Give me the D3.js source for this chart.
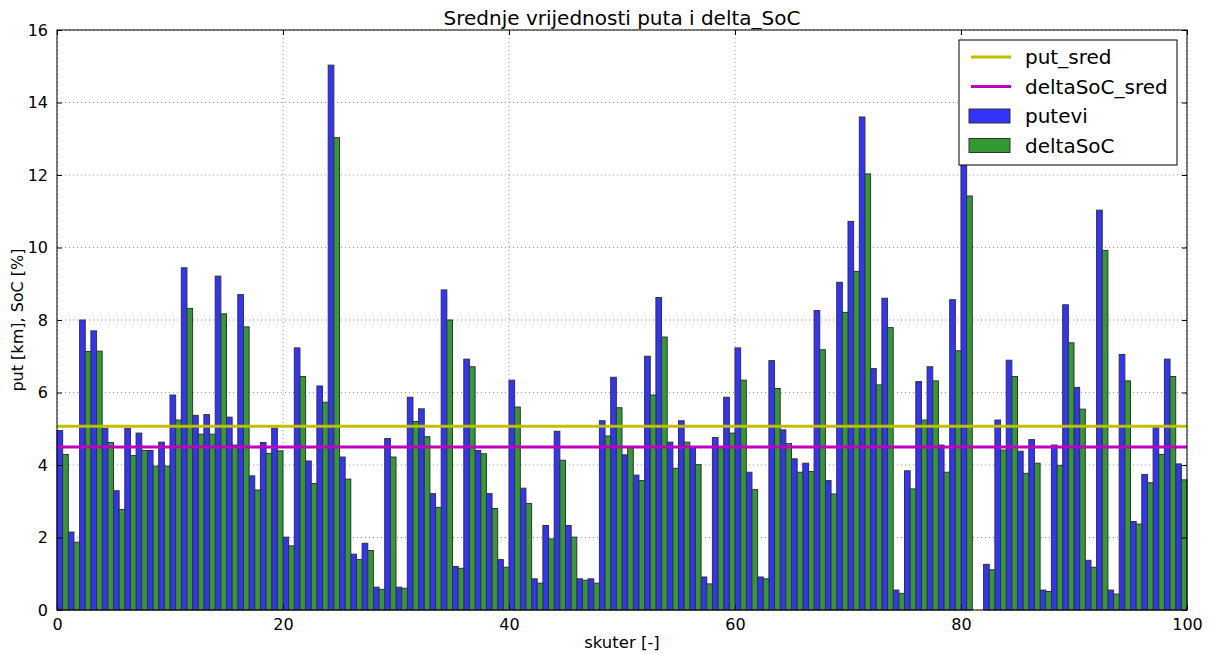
<!DOCTYPE html>
<html>
<head>
<meta charset="utf-8">
<script src="https://cdn.jsdelivr.net/npm/d3@7"></script>
<style>
  html, body { margin: 0; padding: 0; background: #fff; }
  svg { display: block; font-family: "DejaVu Sans", sans-serif; }
</style>
</head>
<body>
<svg id="chart" width="1210" height="654"></svg>
<script>
// Distance travelled per scooter (km)
const putevi = [
  4.95, 2.15, 8.0, 7.7, 5.01, 3.29, 5.01, 4.88, 4.4, 4.63,
  5.93, 9.44, 5.37, 5.39, 9.21, 5.32, 8.7, 3.70, 4.62, 5.02,
  2.01, 7.23, 4.11, 6.18, 15.03, 4.22, 1.54, 1.84, 0.63, 4.73,
  0.63, 5.87, 5.55, 3.21, 8.83, 1.2, 6.92, 4.4, 3.21, 1.39,
  6.34, 3.36, 0.86, 2.33, 4.93, 2.33, 0.86, 0.86, 5.22, 6.42,
  4.28, 3.72, 7.0, 8.62, 4.63, 5.22, 4.48, 0.91, 4.76, 5.87,
  7.23, 3.8, 0.91, 6.88, 4.97, 4.17, 4.05, 8.26, 3.57, 9.04,
  10.72, 13.6, 6.66, 8.6, 0.55, 3.84, 6.3, 6.71, 4.55, 8.56,
  12.9, 0, 1.26, 5.24, 6.89, 4.38, 4.7, 0.55, 4.55, 8.42,
  6.14, 1.37, 11.03, 0.55, 7.05, 2.44, 3.74, 5.05, 6.92, 4.03
];
// State-of-charge drop per scooter (%)
const deltaSoC = [
  4.29, 1.87, 7.13, 7.14, 4.62, 2.77, 4.26, 4.4, 3.97, 3.97,
  5.24, 8.32, 4.85, 4.85, 8.17, 4.55, 7.81, 3.31, 4.32, 4.39,
  1.77, 6.44, 3.49, 5.73, 13.03, 3.61, 1.39, 1.64, 0.57, 4.22,
  0.6, 5.2, 4.78, 2.83, 8.0, 1.15, 6.71, 4.31, 2.8, 1.18,
  5.6, 2.94, 0.74, 1.96, 4.13, 2.01, 0.82, 0.74, 4.8, 5.58,
  4.48, 3.57, 5.93, 7.53, 3.91, 4.63, 4.01, 0.72, 4.48, 4.88,
  6.34, 3.32, 0.86, 6.11, 4.59, 3.8, 3.82, 7.18, 3.2, 8.21,
  9.34, 12.03, 6.21, 7.79, 0.46, 3.34, 5.24, 6.32, 3.8, 7.15,
  11.42, 0, 1.11, 4.41, 6.44, 3.77, 4.05, 0.51, 3.99, 7.37,
  5.54, 1.18, 9.92, 0.44, 6.32, 2.37, 3.51, 4.29, 6.44, 3.59
];
// Averages drawn as horizontal reference lines
const put_sred = [5.07];
const deltaSoC_sred = [4.5];

const xTicks = [0, 20, 40, 60, 80, 100];
const yTicks = [0, 2, 4, 6, 8, 10, 12, 14, 16];

const svg = d3.select("#chart");
const m = { left: 57, right: 1187, top: 30, bottom: 610 };

const x = d3.scaleLinear().domain([0, 100]).range([m.left, m.right]);
const y = d3.scaleLinear().domain([0, 16]).range([m.bottom, m.top]);

// grid
const grid = svg.append("g");
grid.selectAll("line.gx").data(xTicks).join("line")
  .attr("x1", d => x(d)).attr("x2", d => x(d))
  .attr("y1", m.top).attr("y2", m.bottom)
  .attr("stroke", "#000").attr("stroke-width", 0.6)
  .attr("stroke-dasharray", "1,3").attr("opacity", 0.7);
grid.selectAll("line.gy").data(yTicks).join("line")
  .attr("y1", d => y(d)).attr("y2", d => y(d))
  .attr("x1", m.left).attr("x2", m.right)
  .attr("stroke", "#000").attr("stroke-width", 0.6)
  .attr("stroke-dasharray", "1,3").attr("opacity", 0.7);

// bars: putevi on the left half of each unit, deltaSoC on the right half
const bw = 0.5;
const bars = svg.append("g");
bars.selectAll("rect.p").data(putevi).join("rect")
  .attr("x", (d, i) => x(i))
  .attr("width", x(bw) - x(0))
  .attr("y", d => y(d))
  .attr("height", d => y(0) - y(d))
  .attr("fill", "#3333ff")
  .attr("stroke", d => d > 0 ? "#333" : "none").attr("stroke-width", 1);
bars.selectAll("rect.s").data(deltaSoC).join("rect")
  .attr("x", (d, i) => x(i + bw))
  .attr("width", x(bw) - x(0))
  .attr("y", d => y(d))
  .attr("height", d => y(0) - y(d))
  .attr("fill", "#339933")
  .attr("stroke", d => d > 0 ? "#333" : "none").attr("stroke-width", 1);

// mean lines
svg.selectAll("line.put").data(put_sred).join("line")
  .attr("x1", x(0)).attr("x2", x(100))
  .attr("y1", d => y(d)).attr("y2", d => y(d))
  .attr("stroke", "#bfbf00").attr("stroke-width", 3);
svg.selectAll("line.soc").data(deltaSoC_sred).join("line")
  .attr("x1", x(0)).attr("x2", x(100))
  .attr("y1", d => y(d)).attr("y2", d => y(d))
  .attr("stroke", "#bf00bf").attr("stroke-width", 3);

// axes with inward ticks on all four sides
const tl = 5;
svg.append("g").attr("transform", `translate(0,${m.bottom})`)
  .call(d3.axisBottom(x).tickValues(xTicks).tickSizeInner(-tl).tickSizeOuter(0).tickPadding(9))
  .call(g => g.select(".domain").remove());
svg.append("g").attr("transform", `translate(0,${m.top})`)
  .call(d3.axisTop(x).tickValues(xTicks).tickSizeInner(-tl).tickSizeOuter(0).tickFormat(""))
  .call(g => g.select(".domain").remove());
svg.append("g").attr("transform", `translate(${m.left},0)`)
  .call(d3.axisLeft(y).tickValues(yTicks).tickSizeInner(-tl).tickSizeOuter(0).tickPadding(9))
  .call(g => g.select(".domain").remove());
svg.append("g").attr("transform", `translate(${m.right},0)`)
  .call(d3.axisRight(y).tickValues(yTicks).tickSizeInner(-tl).tickSizeOuter(0).tickFormat(""))
  .call(g => g.select(".domain").remove());
svg.selectAll(".tick text").attr("font-size", 16).attr("fill", "#000")
  .attr("font-family", "DejaVu Sans, sans-serif");
svg.selectAll(".tick line").attr("stroke", "#000");

// frame
svg.append("rect")
  .attr("x", m.left).attr("y", m.top)
  .attr("width", m.right - m.left).attr("height", m.bottom - m.top)
  .attr("fill", "none").attr("stroke", "#000").attr("stroke-width", 1);

// title and axis labels
svg.append("text").attr("x", (m.left + m.right) / 2).attr("y", 25)
  .attr("text-anchor", "middle").attr("font-size", 20).text("Srednje vrijednosti puta i delta_SoC");
svg.append("text").attr("x", (m.left + m.right) / 2).attr("y", 648)
  .attr("text-anchor", "middle").attr("font-size", 16.5).text("skuter [-]");
svg.append("text")
  .attr("transform", `translate(23,${(m.top + m.bottom) / 2}) rotate(-90)`)
  .attr("text-anchor", "middle").attr("font-size", 16).text("put [km], SoC [%]");

// legend
const legendItems = [
  { label: "put_sred", type: "line", color: "#bfbf00" },
  { label: "deltaSoC_sred", type: "line", color: "#bf00bf" },
  { label: "putevi", type: "rect", color: "#3333ff" },
  { label: "deltaSoC", type: "rect", color: "#339933" }
];
const lg = svg.append("g").attr("transform", "translate(959,40)");
lg.append("rect").attr("width", 218).attr("height", 125)
  .attr("fill", "#fff").attr("stroke", "#000").attr("stroke-width", 1);
legendItems.forEach((d, i) => {
  const cy = 17 + i * 29.5;
  if (d.type === "line") {
    lg.append("line").attr("x1", 12).attr("x2", 52).attr("y1", cy).attr("y2", cy)
      .attr("stroke", d.color).attr("stroke-width", 3);
  } else {
    lg.append("rect").attr("x", 10).attr("y", cy - 7).attr("width", 41).attr("height", 14)
      .attr("fill", d.color).attr("stroke", "#333").attr("stroke-width", 1);
  }
  lg.append("text").attr("x", 66).attr("y", cy + 7).attr("font-size", 20).text(d.label);
});
</script>
</body>
</html>
